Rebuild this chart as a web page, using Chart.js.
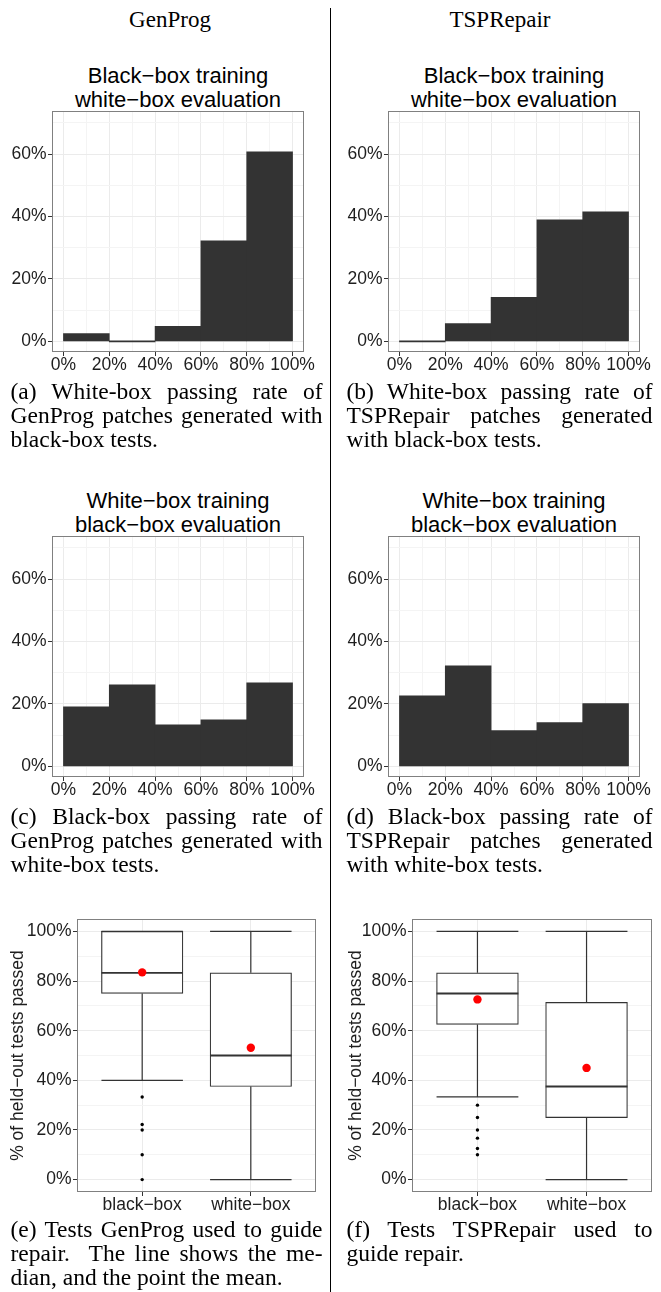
<!DOCTYPE html>
<html>
<head>
<meta charset="utf-8">
<script src="https://cdn.jsdelivr.net/npm/chart.js@4/dist/chart.umd.min.js"></script>
<style>
  html, body { margin: 0; padding: 0; background: #fff; }
  body { width: 661px; height: 1292px; position: relative; overflow: hidden; }
  canvas { position: absolute; }
  .head { position: absolute; font-family: "Liberation Serif", "Times New Roman", serif; font-size: 23px; line-height: 24px; color: #000; white-space: nowrap; transform: translateX(-50%); }
  .ptitle { position: absolute; font-family: "Liberation Sans", Arial, sans-serif; font-size: 22px; line-height: 24.3px; color: #000; text-align: center; white-space: nowrap; transform: translateX(-50%); }
  .cap { position: absolute; font-family: "Liberation Serif", "Times New Roman", serif; font-size: 23.5px; line-height: 24px; color: #000; }
  .cap .j { text-align: justify; text-align-last: justify; }
  .cap .l { text-align: left; }
  .divider { position: absolute; left: 330px; top: 8px; width: 1px; bottom: 0; background: #000; }
</style>
</head>
<body>
<div class="divider"></div>
<script>
// ---- histogram data: share of patches (%) per passing-rate bin ----
const binCenters = [10, 30, 50, 70, 90];
const binTickValues = [0, 20, 40, 60, 80, 100];
const binTickLabels = ['0%', '20%', '40%', '60%', '80%', '100%'];
const shareTickValues = [0, 20, 40, 60];
const shareTickLabels = ['0%', '20%', '40%', '60%'];

const genprogBlackTrainWhiteEval = [2.5, 0, 4.8, 32.2, 60.7];
const tsprepairBlackTrainWhiteEval = [0, 5.7, 14.1, 38.9, 41.5];
const genprogWhiteTrainBlackEval = [19.1, 26.1, 13.3, 14.9, 26.8];
const tsprepairWhiteTrainBlackEval = [22.6, 32.2, 11.5, 14.0, 20.1];

// ---- box plot data: % of held-out tests passed ----
const boxCategories = ['black\u2212box', 'white\u2212box'];
const heldOutTickValues = [0, 20, 40, 60, 80, 100];
const heldOutTickLabels = ['0%', '20%', '40%', '60%', '80%', '100%'];

const genprogWhiskerLow = [40, 0];
const genprogQ1 = [75, 37.5];
const genprogMedian = [83.3, 50];
const genprogQ3 = [100, 83.3];
const genprogWhiskerHigh = [100, 100];
const genprogMean = [83.5, 53.1];
const genprogOutliers = [[33.3, 22.2, 20, 10, 0], []];

const tsprepairWhiskerLow = [33.3, 0];
const tsprepairQ1 = [62.5, 25];
const tsprepairMedian = [75, 37.5];
const tsprepairQ3 = [83.3, 71.4];
const tsprepairWhiskerHigh = [100, 100];
const tsprepairMean = [72.6, 45.0];
const tsprepairOutliers = [[30, 25, 20, 16.7, 12.5, 10], []];

// ---- styling ----
const SANS = '"Liberation Sans", Arial, Helvetica, sans-serif';
const INK = '#1e1e1e';
const GRID_MAJOR = '#EBEBEB';
const GRID_MINOR = '#F4F4F4';
const TICK_MARK = '#333333';
const BAR_FILL = '#333333';
const FRAME = '#808080';
const BOX_LINE = '#333333';
const BOX_WIDTH = 0.75;
const TICK_FONT = { family: SANS, size: 17.5, lineHeight: 1 };

Chart.defaults.font.family = SANS;

// panel border drawn on top of the data, like a ggplot panel
const panelFrame = {
  id: 'panelFrame',
  afterDatasetsDraw(chart) {
    const a = chart.chartArea, ctx = chart.ctx;
    ctx.save();
    ctx.strokeStyle = FRAME;
    ctx.lineWidth = 1;
    ctx.strokeRect(Math.round(a.left) + 0.5, Math.round(a.top) + 0.5,
                   Math.round(a.right - a.left) - 1, Math.round(a.bottom - a.top) - 1);
    ctx.restore();
  }
};

// major breaks plus minor breaks half-way between them, kept inside [min, max]
function gridValues(major, min, max) {
  const half = (major[1] - major[0]) / 2;
  const out = [];
  for (let v = major[0] - Math.floor((major[0] - min) / half) * half; v <= max + 1e-9; v += half) {
    out.push(Math.round(v * 1000) / 1000);
  }
  return out;
}

function labelFor(values, labels) {
  return v => {
    const i = values.indexOf(v);
    return i >= 0 ? labels[i] : '';
  };
}

function gridStyle(majorValues) {
  const isMajor = ctx => ctx.tick && majorValues.includes(ctx.tick.value);
  return {
    offset: false,
    color: ctx => isMajor(ctx) ? GRID_MAJOR : GRID_MINOR,
    lineWidth: 1,
    drawTicks: true,
    tickLength: 4,
    tickWidth: 1,
    tickColor: ctx => isMajor(ctx) ? TICK_MARK : 'rgba(0,0,0,0)'
  };
}

function makeCanvas(box) {
  const c = document.createElement('canvas');
  c.width = box.w; c.height = box.h;
  c.style.left = box.x + 'px'; c.style.top = box.y + 'px';
  c.style.width = box.w + 'px'; c.style.height = box.h + 'px';
  document.body.appendChild(c);
  return c;
}

function layoutFor(box, area) {
  return {
    padding: { top: area.top - box.y, right: box.x + box.w - area.right, left: 0, bottom: 0 },
    yWidth: area.left - box.x,
    xHeight: box.y + box.h - area.bottom
  };
}

const baseOptions = (L) => ({
  responsive: false,
  animation: false,
  devicePixelRatio: 1,
  layout: { padding: L.padding },
  plugins: { legend: { display: false }, tooltip: { enabled: false }, title: { display: false } },
  events: []
});

function histogram(box, area, values) {
  const L = layoutFor(box, area);
  const xMin = -5, xMax = 105, yMin = -3.4, yMax = 73.8;
  const xGrid = gridValues(binTickValues, xMin, xMax);
  const yGrid = gridValues(shareTickValues, yMin, yMax);
  new Chart(makeCanvas(box), {
    type: 'bar',
    data: {
      datasets: [{
        data: binCenters.map((x, i) => ({ x, y: values[i] })),
        backgroundColor: BAR_FILL,
        borderWidth: 0,
        barThickness: 'flex',
        categoryPercentage: 1,
        barPercentage: 1,
        minBarLength: 1
      }]
    },
    options: Object.assign(baseOptions(L), {
      scales: {
        x: {
          type: 'linear', min: xMin, max: xMax, offset: false, bounds: 'data',
          afterBuildTicks: ax => { ax.ticks = xGrid.map(v => ({ value: v })); },
          afterFit: ax => { ax.height = L.xHeight; },
          ticks: { autoSkip: false, maxRotation: 0, minRotation: 0, padding: 0, color: INK, font: TICK_FONT,
                   callback: labelFor(binTickValues, binTickLabels) },
          grid: gridStyle(binTickValues),
          border: { display: false }
        },
        y: {
          type: 'linear', min: yMin, max: yMax, bounds: 'data',
          afterBuildTicks: ax => { ax.ticks = yGrid.map(v => ({ value: v })); },
          afterFit: ax => { ax.width = L.yWidth; },
          ticks: { autoSkip: false, padding: 1.5, color: INK, font: TICK_FONT,
                   callback: labelFor(shareTickValues, shareTickLabels) },
          grid: gridStyle(shareTickValues),
          border: { display: false }
        }
      }
    }),
    plugins: [panelFrame]
  });
}

function boxplot(box, area, s, titlePad) {
  const L = layoutFor(box, area);
  const xs = boxCategories.map((_, i) => i + 1);
  const h = BOX_WIDTH / 2;
  const gap = x => ({ x, y: null });
  const whiskers = xs.flatMap((x, i) => [
    { x, y: s.q3[i] }, { x, y: s.hi[i] }, gap(x),
    { x: x - h, y: s.hi[i] }, { x: x + h, y: s.hi[i] }, gap(x),
    { x, y: s.q1[i] }, { x, y: s.lo[i] }, gap(x),
    { x: x - h, y: s.lo[i] }, { x: x + h, y: s.lo[i] }, gap(x)
  ]);
  const medians = xs.flatMap((x, i) => [{ x: x - h, y: s.med[i] }, { x: x + h, y: s.med[i] }, gap(x)]);
  const outliers = xs.flatMap((x, i) => s.outliers[i].map(y => ({ x, y })));
  const means = xs.map((x, i) => ({ x, y: s.mean[i] }));
  const yMin = -5, yMax = 105;
  const yGrid = gridValues(heldOutTickValues, yMin, yMax);

  new Chart(makeCanvas(box), {
    type: 'bar',
    data: {
      datasets: [
        { type: 'bar', order: 5, data: xs.map((x, i) => ({ x, y: [s.q1[i], s.q3[i]] })),
          backgroundColor: '#ffffff', borderColor: BOX_LINE, borderWidth: 1.2, borderSkipped: false,
          barThickness: 'flex', barPercentage: BOX_WIDTH, categoryPercentage: 1 },
        { type: 'line', order: 4, data: whiskers, borderColor: BOX_LINE, borderWidth: 1.2,
          pointRadius: 0, fill: false, tension: 0, spanGaps: false },
        { type: 'line', order: 3, data: medians, borderColor: BOX_LINE, borderWidth: 1.9,
          pointRadius: 0, fill: false, tension: 0, spanGaps: false },
        { type: 'scatter', order: 2, data: outliers, pointRadius: 1.7,
          pointBackgroundColor: '#000000', pointBorderWidth: 0 },
        { type: 'scatter', order: 1, data: means, pointRadius: 4.2,
          pointBackgroundColor: '#FF0000', pointBorderWidth: 0 }
      ]
    },
    options: Object.assign(baseOptions(L), {
      scales: {
        x: {
          type: 'linear', min: 0.4, max: 2.6, offset: false, bounds: 'data',
          afterBuildTicks: ax => { ax.ticks = xs.map(v => ({ value: v })); },
          afterFit: ax => { ax.height = L.xHeight; },
          ticks: { autoSkip: false, maxRotation: 0, minRotation: 0, padding: 0, color: INK, font: TICK_FONT,
                   callback: v => boxCategories[v - 1] },
          grid: gridStyle(xs),
          border: { display: false }
        },
        y: {
          type: 'linear', min: yMin, max: yMax, bounds: 'data',
          afterBuildTicks: ax => { ax.ticks = yGrid.map(v => ({ value: v })); },
          afterFit: ax => { ax.width = L.yWidth; },
          ticks: { autoSkip: false, padding: 1.5, color: INK, font: TICK_FONT,
                   callback: labelFor(heldOutTickValues, heldOutTickLabels) },
          grid: gridStyle(heldOutTickValues),
          border: { display: false },
          title: { display: true, text: '% of held\u2212out tests passed', color: INK,
                   font: { family: SANS, size: 17.5, lineHeight: 1 }, padding: { top: titlePad, bottom: 0 } }
        }
      }
    }),
    plugins: [panelFrame]
  });
}

// ---- text helpers ----
function addDiv(cls, left, top, html) {
  const d = document.createElement('div');
  d.className = cls;
  d.style.left = left + 'px';
  d.style.top = top + 'px';
  d.innerHTML = html;
  document.body.appendChild(d);
  return d;
}
function caption(left, top, width, lines) {
  const d = addDiv('cap', left, top, lines.map((t, i) =>
    '<div class="' + (i === lines.length - 1 ? 'l' : 'j') + '">' + t + '</div>').join(''));
  d.style.width = width + 'px';
}

// ---- column headers ----
addDiv('head', 170, 7.7, 'GenProg');
addDiv('head', 500, 7.7, 'TSPRepair');

// ---- row 1: black-box training, white-box evaluation ----
addDiv('ptitle', 178, 64.2, 'Black\u2212box training<br>white\u2212box evaluation');
addDiv('ptitle', 514, 64.2, 'Black\u2212box training<br>white\u2212box evaluation');
histogram({ x: 0, y: 100, w: 330, h: 280 }, { left: 52, top: 111, right: 304, bottom: 352 }, genprogBlackTrainWhiteEval);
histogram({ x: 331, y: 100, w: 330, h: 280 }, { left: 388, top: 111, right: 640, bottom: 352 }, tsprepairBlackTrainWhiteEval);
caption(10.5, 379.1, 312, ['(a) White-box passing rate of', 'GenProg patches generated with', 'black-box tests.']);
caption(346.5, 379.1, 306, ['(b) White-box passing rate of', 'TSPRepair patches generated', 'with black-box tests.']);

// ---- row 2: white-box training, black-box evaluation ----
addDiv('ptitle', 178, 489.2, 'White\u2212box training<br>black\u2212box evaluation');
addDiv('ptitle', 514, 489.2, 'White\u2212box training<br>black\u2212box evaluation');
histogram({ x: 0, y: 525, w: 330, h: 280 }, { left: 52, top: 536, right: 304, bottom: 777 }, genprogWhiteTrainBlackEval);
histogram({ x: 331, y: 525, w: 330, h: 280 }, { left: 388, top: 536, right: 640, bottom: 777 }, tsprepairWhiteTrainBlackEval);
caption(10.5, 804.4, 312, ['(c) Black-box passing rate of', 'GenProg patches generated with', 'white-box tests.']);
caption(346.5, 804.4, 306, ['(d) Black-box passing rate of', 'TSPRepair patches generated', 'with white-box tests.']);

// ---- row 3: tests used to guide repair ----
boxplot({ x: 0, y: 905, w: 330, h: 315 }, { left: 77, top: 919, right: 316, bottom: 1192 }, {
  lo: genprogWhiskerLow, q1: genprogQ1, med: genprogMedian, q3: genprogQ3,
  hi: genprogWhiskerHigh, mean: genprogMean, outliers: genprogOutliers
}, 9.75);
boxplot({ x: 331, y: 905, w: 330, h: 315 }, { left: 412, top: 919, right: 652, bottom: 1192 }, {
  lo: tsprepairWhiskerLow, q1: tsprepairQ1, med: tsprepairMedian, q3: tsprepairQ3,
  hi: tsprepairWhiskerHigh, mean: tsprepairMean, outliers: tsprepairOutliers
}, 16.75);
caption(10.5, 1217.4, 312, ['(e) Tests GenProg used to guide', 'repair.&nbsp; The line shows the me-', 'dian, and the point the mean.']);
caption(346.5, 1217.4, 306, ['(f) Tests TSPRepair used to', 'guide repair.']);
</script>
</body>
</html>
